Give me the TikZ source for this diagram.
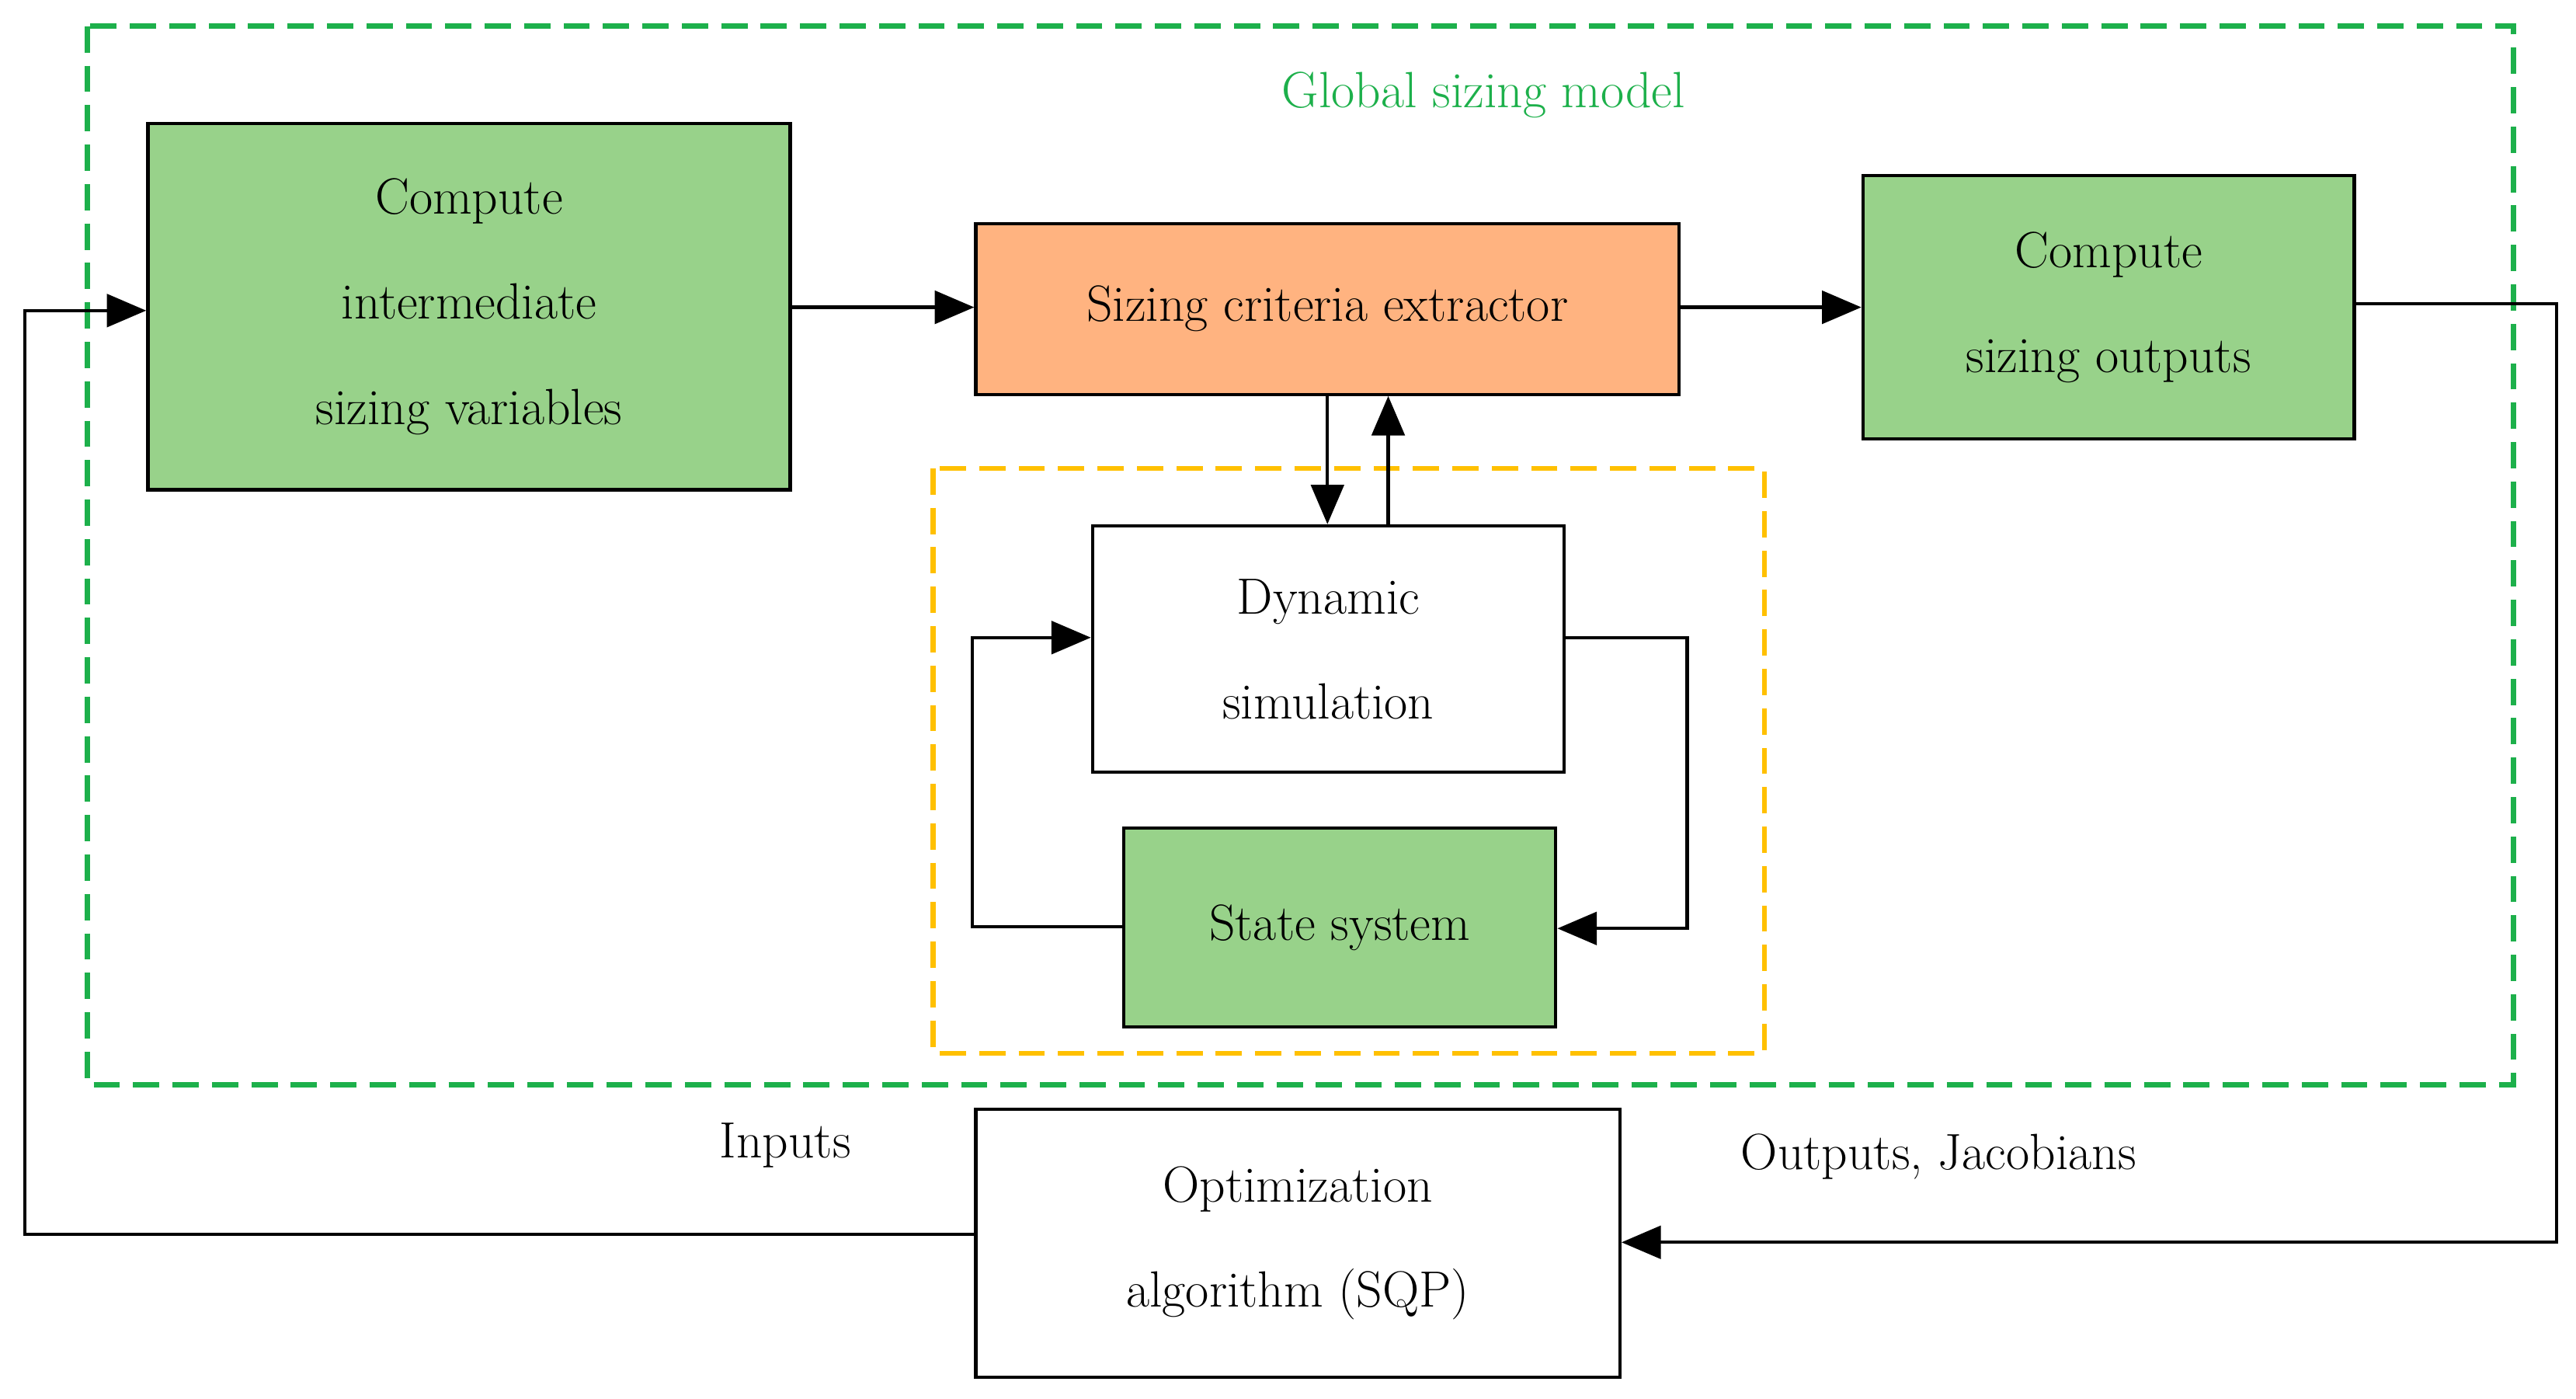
\documentclass[tikz,border=0pt]{standalone}
\usetikzlibrary{arrows.meta}
\definecolor{gfill}{HTML}{98D28A}
\definecolor{ofill}{HTML}{FFB380}
\definecolor{gdash}{HTML}{1DB04B}
\definecolor{odash}{HTML}{FFC000}
\begin{document}
\begin{tikzpicture}[x=0.5pt,y=-0.5pt,
  box/.style={draw=black,line width=1pt,align=center,font=\fontsize{15.5}{32}\selectfont},
  arr/.style={line width=1pt,-{Triangle[length=12pt,width=10pt]}},
  ln/.style={line width=1pt}]
\useasboundingbox (0,0) rectangle (1568,851);
\draw[gdash,dashed,line width=1.6pt,dash pattern=on 8pt off 4pt] (53,16) rectangle (1530,660);
\node[text=gdash,font=\fontsize{15.5}{20}\selectfont] (gl) at (903,58) {Global sizing model};
\draw[odash,line width=1.6pt,dash pattern=on 8pt off 4pt] (568,285) rectangle (1074,641);
\node[box,fill=gfill,minimum width=195.5pt,minimum height=111.5pt] (b1) at (285.5,186.5) {Compute\\intermediate\\sizing variables};
\node[box,fill=ofill,minimum width=214pt,minimum height=52pt] (b2) at (808,188) {Sizing criteria extractor};
\node[box,fill=gfill,minimum width=149.5pt,minimum height=80pt] (b3) at (1283.5,187) {Compute\\sizing outputs};
\node[box,fill=white,minimum width=143.5pt,minimum height=75pt] (ds) at (808.5,395) {Dynamic\\simulation};
\node[box,fill=gfill,minimum width=131.5pt,minimum height=60.5pt] (ss) at (815.5,564.5) {State system};
\node[box,fill=white,minimum width=196pt,minimum height=81.5pt] (op) at (790,756.5) {Optimization\\algorithm (SQP)};
\node[font=\fontsize{15.5}{20}\selectfont] (in) at (478,697) {Inputs};
\node[font=\fontsize{15.5}{20}\selectfont] (out) at (1180,704) {Outputs, Jacobians};
\draw[arr] (b1.east|-0,187) -- (b2.west|-0,187);
\draw[arr] (b2.east|-0,187) -- (b3.west|-0,187);
\draw[arr] (b2.south-|808,0) -- (ds.north-|808,0);
\draw[arr] (ds.north-|845,0) -- (b2.south-|845,0);
\draw[arr] (ds.east|-0,388) -- (1027,388) -- (1027,565) -- (ss.east|-0,565);
\draw[arr] (ss.west|-0,564) -- (592,564) -- (592,388) -- (ds.west|-0,388);
\draw[arr] (b3.east|-0,185) -- (1556,185) -- (1556,756) -- (op.east|-0,756);
\draw[arr] (op.west|-0,751) -- (15,751) -- (15,189) -- (b1.west|-0,189);
\end{tikzpicture}
\end{document}
